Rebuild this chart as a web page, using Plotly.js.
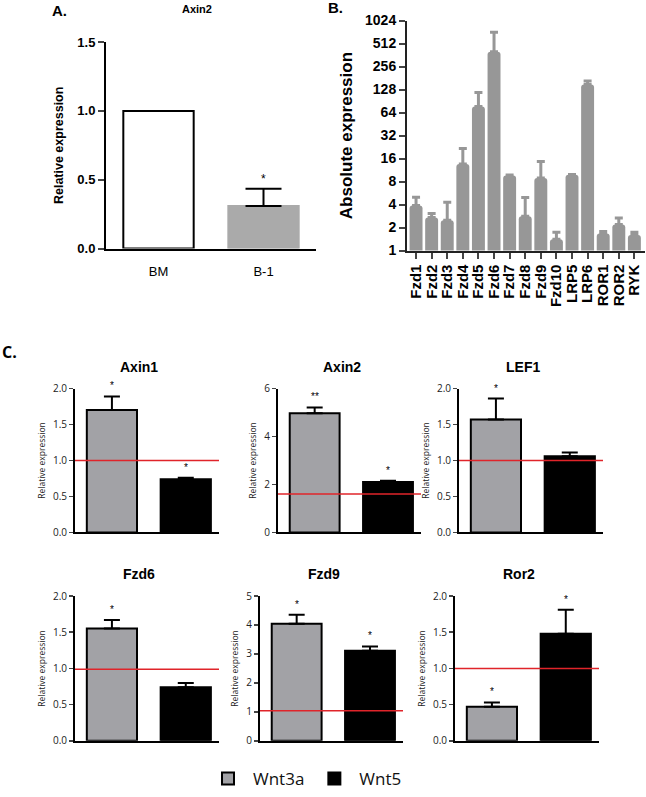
<!DOCTYPE html>
<html>
<head>
<meta charset="utf-8">
<script src="https://cdn.plot.ly/plotly-3.0.1.min.js"></script>
<style>
body{margin:0;padding:0;background:#fff;}
#fig{width:646px;height:797px;}
</style>
</head>
<body>
<div id="fig"></div>
<script>
// panel A - Axin2, BM vs B-1
var aCats = ['BM', 'B-1'];
var aVals = [1.0, 0.31];
var aErr = [0, 0.125];
var aSig = ['', '*'];

// panel B - absolute expression of receptors (log2 axis)
var bGenes = ['Fzd1','Fzd2','Fzd3','Fzd4','Fzd5','Fzd6','Fzd7','Fzd8','Fzd9','Fzd10','LRP5','LRP6','ROR1','ROR2','RYK'];
var bVals = [3.9, 2.7, 2.5, 13.6, 77, 400, 9.6, 2.8, 8.9, 1.4, 9.8, 149, 1.67, 2.2, 1.6];
var bErr = [1.1, 0.35, 1.8, 8, 40, 320, 0.15, 2.15, 5.7, 0.33, 0.1, 16, 0.1, 0.47, 0.13];
var bTicks = [1, 2, 4, 8, 16, 32, 64, 128, 256, 512, 1024];

// panel C - Wnt3a vs Wnt5
var cGenes = ['Axin1', 'Axin2', 'LEF1', 'Fzd6', 'Fzd9', 'Ror2'];
var cGroups = ['Wnt3a', 'Wnt5'];
var wnt3a = [1.70, 4.97, 1.57, 1.55, 4.04, 0.47];
var wnt3aErr = [0.19, 0.24, 0.29, 0.12, 0.31, 0.06];
var wnt5 = [0.74, 2.10, 1.06, 0.74, 3.11, 1.48];
var wnt5Err = [0.02, 0.05, 0.05, 0.06, 0.15, 0.33];
var sig3a = ['*', '**', '*', '*', '*', '*'];
var sig5 = ['*', '*', '', '', '*', '*'];
var controlLine = [1.0, 1.6, 1.0, 0.99, 1.04, 1.0];
var cMax = [2, 6, 2, 2, 5, 2];
var cStep = [0.5, 2, 0.5, 0.5, 1, 0.5];

var W = 646, H = 797;
function px(x){ return x / W; }
function py(y){ return 1 - y / H; }

var ARIAL = 'Arial, Liberation Sans, sans-serif';
var CAL = 'Open Sans, sans-serif';
var GRAY_C = '#a2a2a6';

var data = [];
var annotations = [];
var shapes = [];

// ---- panel A
data.push({
  type: 'bar', x: aCats, y: aVals, xaxis: 'x', yaxis: 'y',
  width: 0.67, showlegend: false,
  marker: {color: ['#ffffff', '#aaaaaa'], line: {color: ['#000', '#aaaaaa'], width: 2}},
  error_y: {type: 'data', array: aErr, arrayminus: [0, 0], symmetric: false,
            visible: true, color: '#000', thickness: 2, width: 18}
});
for (var i = 0; i < aCats.length; i++) {
  if (aSig[i]) {
    annotations.push({xref: 'x', yref: 'y', x: aCats[i], y: aVals[i] + aErr[i],
      text: aSig[i], showarrow: false, yanchor: 'bottom', yshift: 1,
      font: {family: ARIAL, size: 12, color: '#000'}});
  }
}

// ---- panel B
var bErrMinus = [];
for (var i = 0; i < bVals.length; i++) bErrMinus.push(0);
data.push({
  type: 'bar', x: bGenes, y: bVals, xaxis: 'x2', yaxis: 'y2',
  width: 0.83, showlegend: false,
  marker: {color: '#979797', cornerradius: 3, line: {width: 0}},
  error_y: {type: 'data', array: bErr, arrayminus: bErrMinus, symmetric: false,
            visible: true, color: '#979797', thickness: 3, width: 4}
});

// ---- panel C
var cDom = [
  {x: [75, 219], y: [397, 544]},
  {x: [278, 421], y: [397, 544]},
  {x: [459, 603], y: [397, 544]},
  {x: [75, 219], y: [609, 757]},
  {x: [260, 403], y: [609, 757]},
  {x: [455, 599], y: [609, 757]}
];

var layout = {
  width: W, height: H,
  margin: {l: 0, r: 0, t: 0, b: 0},
  paper_bgcolor: '#fff', plot_bgcolor: 'rgba(0,0,0,0)',
  barmode: 'overlay',
  font: {family: ARIAL, color: '#000'},
  showlegend: true,
  legend: {orientation: 'h', x: px(203), y: py(778), xanchor: 'left', yanchor: 'top',
           font: {family: CAL, size: 17, color: '#111'}, itemwidth: 40, bgcolor: 'rgba(0,0,0,0)'},
  xaxis: {domain: [px(106), px(316)], anchor: 'y', range: [-0.5, 1.5],
          showline: true, linecolor: '#000', linewidth: 2, ticks: 'outside', ticklen: 10, tickcolor: 'rgba(0,0,0,0)',
          tickfont: {family: ARIAL, size: 13}, showgrid: false, zeroline: false},
  yaxis: {domain: [py(254), py(43)], anchor: 'x', range: [0, 1.5], dtick: 0.5, tickformat: '.1f',
          showline: true, linecolor: '#000', linewidth: 2, ticks: 'outside', ticklen: 6, tickwidth: 2,
          tickfont: {family: ARIAL, size: 13, weight: 'bold'}, showgrid: false, zeroline: false,
          title: {text: 'Relative expression', font: {family: ARIAL, size: 12.5, weight: 'bold'}, standoff: 11}},
  xaxis2: {domain: [px(407), px(645)], anchor: 'y2', range: [-0.58, 14.68],
           tickmode: 'array', tickvals: bGenes,
           showline: true, linecolor: '#222', linewidth: 2, ticks: 'outside', ticklen: 6, tickwidth: 2,
           tickangle: -90, tickfont: {family: ARIAL, size: 15, weight: 'bold'},
           showgrid: false, zeroline: false},
  yaxis2: {domain: [py(256), py(21)], anchor: 'x2', type: 'log', range: [0, Math.log10(1024)],
           tickvals: bTicks, ticktext: bTicks.map(String),
           showline: true, linecolor: '#222', linewidth: 2, ticks: 'outside', ticklen: 6, tickwidth: 2,
           tickfont: {family: ARIAL, size: 14, weight: 'bold'}, showgrid: false, zeroline: false,
           title: {text: 'Absolute expression', font: {family: ARIAL, size: 17, weight: 'bold'}, standoff: 8}}
};

for (var k = 0; k < cGenes.length; k++) {
  var n = k + 3;
  var xa = 'x' + n, ya = 'y' + n;
  data.push({
    type: 'bar', x: [cGroups[0]], y: [wnt3a[k]], xaxis: xa, yaxis: ya,
    name: cGroups[0], legendgroup: cGroups[0], showlegend: k === 0, width: 0.68,
    marker: {color: GRAY_C, line: {color: '#000', width: 2}},
    error_y: {type: 'data', array: [wnt3aErr[k]], arrayminus: [0], symmetric: false,
              visible: true, color: '#000', thickness: 2, width: 8}
  });
  data.push({
    type: 'bar', x: [cGroups[1]], y: [wnt5[k]], xaxis: xa, yaxis: ya,
    name: cGroups[1], legendgroup: cGroups[1], showlegend: k === 0, width: 0.68,
    marker: {color: '#000', line: {color: '#000', width: 2}},
    error_y: {type: 'data', array: [wnt5Err[k]], arrayminus: [0], symmetric: false,
              visible: true, color: '#000', thickness: 2, width: 8}
  });
  layout['xaxis' + n] = {
    domain: [px(cDom[k].x[0]), px(cDom[k].x[1])], anchor: ya,
    type: 'category', categoryarray: cGroups, range: [-0.5, 1.45],
    showline: true, linecolor: '#000', linewidth: 2, ticks: '', showticklabels: false,
    showgrid: false, zeroline: false
  };
  layout['yaxis' + n] = {
    domain: [py(cDom[k].y[1]), py(cDom[k].y[0])], anchor: xa,
    range: [0, cMax[k]], dtick: cStep[k], tickformat: cStep[k] < 1 ? '.1f' : 'd',
    showline: true, linecolor: '#000', linewidth: 2, ticks: 'outside', ticklen: 4, tickwidth: 1.5,
    tickfont: {family: CAL, size: 10, color: '#222'}, showgrid: false, zeroline: false,
    title: {text: 'Relative expression', font: {family: CAL, size: 8.5, color: '#222'}, standoff: 6}
  };
  shapes.push({type: 'line', xref: xa + ' domain', yref: ya, x0: 0, x1: 1,
               y0: controlLine[k], y1: controlLine[k], line: {color: '#e0242a', width: 1.5}, layer: 'above'});
  if (sig3a[k]) {
    annotations.push({xref: xa, yref: ya, x: cGroups[0], y: wnt3a[k] + wnt3aErr[k], text: sig3a[k],
      showarrow: false, yanchor: 'bottom', yshift: 3, font: {family: ARIAL, size: 10, color: '#000'}});
  }
  if (sig5[k]) {
    annotations.push({xref: xa, yref: ya, x: cGroups[1], y: wnt5[k] + wnt5Err[k], text: sig5[k],
      showarrow: false, yanchor: 'bottom', yshift: 3, font: {family: ARIAL, size: 10, color: '#000'}});
  }
  annotations.push({xref: 'paper', yref: 'paper',
    x: px((cDom[k].x[0] + cDom[k].x[1]) / 2 - 8), y: py(cDom[k].y[0] - 22),
    text: cGenes[k], showarrow: false, xanchor: 'center', yanchor: 'middle',
    font: {family: ARIAL, size: 14, weight: 'bold', color: '#000'}});
}

// panel letters and panel A title
annotations.push({xref: 'paper', yref: 'paper', x: px(50), y: py(11), text: 'A.', showarrow: false,
  xanchor: 'left', yanchor: 'middle', font: {family: ARIAL, size: 15, weight: 'bold'}});
annotations.push({xref: 'paper', yref: 'paper', x: px(197), y: py(9), text: 'Axin2', showarrow: false,
  xanchor: 'center', yanchor: 'middle', font: {family: ARIAL, size: 11, weight: 'bold'}});
annotations.push({xref: 'paper', yref: 'paper', x: px(326), y: py(8), text: 'B.', showarrow: false,
  xanchor: 'left', yanchor: 'middle', font: {family: ARIAL, size: 15, weight: 'bold'}});
annotations.push({xref: 'paper', yref: 'paper', x: px(0), y: py(360), text: 'C.', showarrow: false,
  xanchor: 'left', yanchor: 'middle', font: {family: CAL, size: 16, weight: 'bold'}});

layout.annotations = annotations;
layout.shapes = shapes;

Plotly.newPlot('fig', data, layout, {staticPlot: true});
</script>
</body>
</html>
